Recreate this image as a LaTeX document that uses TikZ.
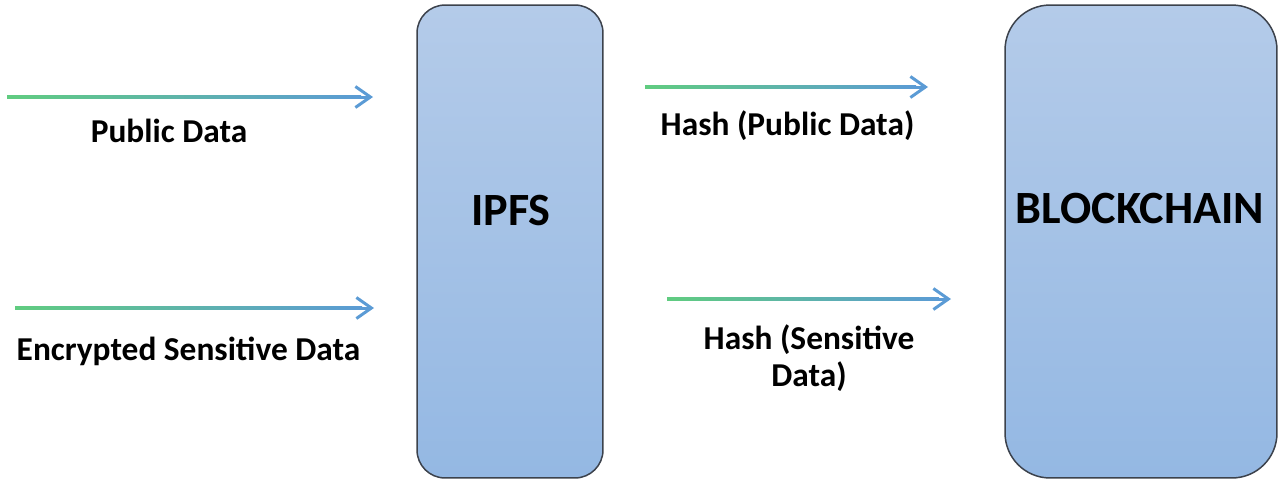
\documentclass[tikz,border=0pt]{standalone}
\usepackage{fontspec}
\setmainfont{Carlito}
\usetikzlibrary{arrows.meta,calc}
\definecolor{flowgreen}{RGB}{96,204,128}
\definecolor{flowblue}{RGB}{91,155,213}
\definecolor{boxtop}{RGB}{180,203,233}
\definecolor{boxbot}{RGB}{148,184,227}
\definecolor{boxline}{RGB}{60,66,76}
\tikzset{
  store/.style={draw=boxline, line width=0.03cm, top color=boxtop, bottom color=boxbot, inner sep=0pt},
  flow/.style={draw=flowblue, line width=0.06cm, -{Straight Barb[length=0.3cm,width=0.42cm]}},
  lbl/.style={font=\bfseries\fontsize{19}{21}\selectfont, inner sep=0pt, anchor=base},
  big/.style={font=\bfseries\fontsize{26.3}{30}\selectfont, inner sep=0pt},
}
% arrow with a green to blue shaft
\newcommand{\flowline}[2]{%
  \draw[flow] (#1) -- (#2);
  \shade[left color=flowgreen, right color=flowblue] ($(#1)+(0,-1.5)$) rectangle ($(#2)+(-12,1.5)$);}

\begin{document}
\begin{tikzpicture}[x=0.02cm, y=-0.02cm]
  \useasboundingbox (0,0) rectangle (1281,481);

  % the two stores
  \node[store, minimum width=3.72cm, minimum height=9.46cm, rounded corners=0.56cm] (ipfs) at (510,241.5) {};
  \node[store, minimum width=5.44cm, minimum height=9.46cm, rounded corners=0.9cm] (chain) at (1141,241.5) {};
  \node[big] (ipfslbl) at (511,210) {IPFS};
  \node[big] (chainlbl) at (1140,208) {BLOCKCHAIN};

  % inputs of IPFS
  \coordinate (pubA) at (7,97);
  \coordinate (pubB) at (373,97);
  \coordinate (encA) at (15,308);
  \coordinate (encB) at (374,308);
  \flowline{pubA}{pubB}
  \flowline{encA}{encB}
  \node[lbl] (publbl) at (169,142) {Public Data};
  \node[lbl] (enclbl) at (188.5,360) {Encrypted Sensitive Data};

  % hashes to the blockchain
  \coordinate (hpubA) at (645,87);
  \coordinate (hpubB) at (928,87);
  \coordinate (hsenA) at (667,299);
  \coordinate (hsenB) at (951,299);
  \flowline{hpubA}{hpubB}
  \flowline{hsenA}{hsenB}
  \node[lbl] (hpublbl) at (787.5,135) {Hash (Public Data)};
  \node[lbl, anchor=center, align=center] (hsenlbl) at (809,358) {Hash (Sensitive\\Data)};
\end{tikzpicture}
\end{document}
